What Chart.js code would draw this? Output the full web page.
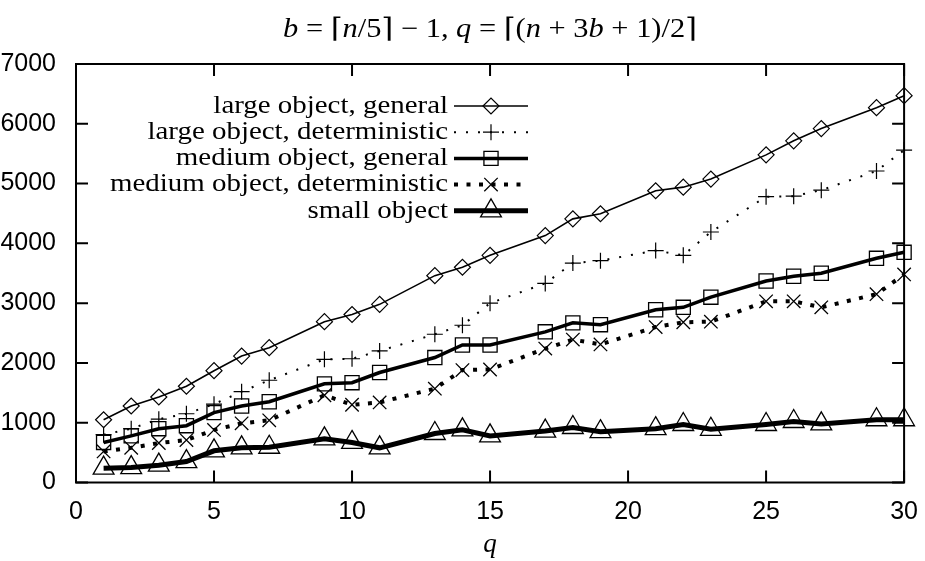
<!DOCTYPE html>
<html>
<head>
<meta charset="utf-8">
<script src="https://cdn.jsdelivr.net/npm/chart.js@4/dist/chart.umd.min.js"></script>
<style>
  html, body { margin: 0; padding: 0; background: #fff; }
  #wrap { width: 925px; height: 561px; }
</style>
</head>
<body>
<div id="wrap"><canvas id="chart" width="925" height="561"></canvas></div>
<script>
// q values that were measured (8, 12, 16, 20, 24, 28 are missing)
const qValues = [1, 2, 3, 4, 5, 6, 7, 9, 10, 11, 13, 14, 15, 17, 18, 19, 21, 22, 23, 25, 26, 27, 29, 30];

const largeGeneral = [1050, 1280, 1430, 1610, 1870, 2115, 2255, 2690, 2810, 2980, 3460, 3600, 3800, 4130, 4410, 4495, 4880, 4940, 5075, 5480, 5715, 5920, 6270, 6470];
const largeDeterministic = [800, 900, 1060, 1150, 1310, 1520, 1710, 2060, 2070, 2200, 2480, 2630, 3000, 3330, 3670, 3710, 3880, 3800, 4190, 4780, 4790, 4890, 5210, 5560];
const mediumGeneral = [670, 780, 900, 950, 1170, 1280, 1350, 1650, 1670, 1840, 2090, 2300, 2300, 2520, 2670, 2640, 2890, 2930, 3100, 3370, 3450, 3500, 3750, 3850];
const mediumDeterministic = [520, 580, 660, 710, 880, 990, 1040, 1460, 1300, 1340, 1570, 1880, 1890, 2240, 2390, 2310, 2600, 2680, 2690, 3030, 3030, 2930, 3150, 3480];
const smallObject = [240, 250, 290, 350, 530, 580, 590, 730, 670, 580, 820, 880, 780, 860, 920, 850, 900, 970, 890, 970, 1020, 980, 1050, 1050];

const seriesLabels = [
    'large object, general',
    'large object, deterministic',
    'medium object, general',
    'medium object, deterministic',
    'small object'
];

const xTicks = [0, 5, 10, 15, 20, 25, 30];
const yTicks = [0, 1000, 2000, 3000, 4000, 5000, 6000, 7000];

const titleParts = [
    ['b', true], [' = \u2308', false], ['n', true], ['/5\u2309 \u2212 1, ', false],
    ['q', true], [' = \u2308(', false], ['n', true], [' + 3', false], ['b', true], [' + 1)/2\u2309', false]
];
const xAxisTitle = 'q';

const serif = '"Liberation Serif", "DejaVu Serif", serif';
const sans = '"Liberation Sans", Arial, sans-serif';

function toPoints(values) {
    return qValues.map((q, i) => ({ x: q, y: values[i] }));
}

// style per series: line width, dash, marker
const styles = [
    { bw: 1.6, dash: [], pt: 'rectRot', r: 8, pw: 1.2 },
    { bw: 2, dash: [2, 10], pt: 'cross', r: 8, pw: 1.2 },
    { bw: 3.5, dash: [], pt: 'rect', r: 10, pw: 1.3 },
    { bw: 4, dash: [4, 8.5], pt: 'crossRot', r: 9.5, pw: 1.3 },
    { bw: 5, dash: [], pt: 'triangle', r: 12, pw: 1.3 }
];

const seriesValues = [largeGeneral, largeDeterministic, mediumGeneral, mediumDeterministic, smallObject];

const datasets = seriesValues.map((vals, i) => ({
    label: seriesLabels[i],
    data: toPoints(vals),
    borderColor: '#000',
    borderWidth: styles[i].bw,
    borderDash: styles[i].dash,
    borderCapStyle: 'butt',
    tension: 0,
    pointStyle: styles[i].pt,
    pointRadius: styles[i].r,
    pointBorderWidth: styles[i].pw,
    pointBorderColor: '#000',
    pointBackgroundColor: 'rgba(0,0,0,0)',
    clip: false
}));

// frame with inside ticks on all four sides
const framePlugin = {
    id: 'frame',
    beforeDatasetsDraw(chart) {
        const { ctx, chartArea: a, scales: { x, y } } = chart;
        ctx.save();
        ctx.strokeStyle = '#000';
        ctx.lineWidth = 2;
        ctx.beginPath();
        xTicks.forEach(v => {
            const px = x.getPixelForValue(v);
            ctx.moveTo(px, a.bottom); ctx.lineTo(px, a.bottom - 12);
            ctx.moveTo(px, a.top); ctx.lineTo(px, a.top + 12);
        });
        yTicks.forEach(v => {
            const py = y.getPixelForValue(v);
            ctx.moveTo(a.left, py); ctx.lineTo(a.left + 12, py);
            ctx.moveTo(a.right, py); ctx.lineTo(a.right - 12, py);
        });
        ctx.stroke();
        ctx.strokeRect(a.left, a.top, a.right - a.left, a.bottom - a.top);
        ctx.restore();
    }
};

// text stretched sideways a bit, Times is narrower than the original TeX font
function wideText(ctx, text, x, y, sx) {
    ctx.save();
    ctx.translate(x, y);
    ctx.scale(sx, 1);
    ctx.fillText(text, 0, 0);
    ctx.restore();
}

// gnuplot style key: right aligned text, then line sample with marker
const keyPlugin = {
    id: 'key',
    afterDatasetsDraw(chart) {
        const ctx = chart.ctx;
        ctx.save();
        ctx.font = '26px ' + serif;
        const sx = 338 / ctx.measureText(seriesLabels[3]).width;
        ctx.fillStyle = '#000';
        ctx.textAlign = 'right';
        ctx.textBaseline = 'middle';
        chart.data.datasets.forEach((ds, i) => {
            const yy = 106 + i * 26.2;
            ctx.fillStyle = '#000';
            wideText(ctx, ds.label, 448, yy, sx);
            ctx.strokeStyle = '#000';
            ctx.lineWidth = ds.borderWidth;
            ctx.setLineDash(ds.borderDash);
            ctx.lineCap = 'butt';
            ctx.beginPath();
            ctx.moveTo(454, yy);
            ctx.lineTo(528, yy);
            ctx.stroke();
            ctx.setLineDash([]);
            ctx.lineWidth = ds.pointBorderWidth;
            ctx.fillStyle = 'rgba(0,0,0,0)';
            Chart.helpers.drawPoint(ctx, {
                pointStyle: ds.pointStyle,
                radius: ds.pointRadius,
                borderWidth: ds.pointBorderWidth,
                rotation: 0
            }, 491, yy);
        });
        ctx.restore();
    }
};

// title with italic variables, and x axis title
const textPlugin = {
    id: 'texts',
    afterDraw(chart) {
        const ctx = chart.ctx;
        const a = chart.chartArea;
        const cx = (a.left + a.right) / 2;
        ctx.save();
        ctx.fillStyle = '#000';
        ctx.textBaseline = 'middle';
        ctx.textAlign = 'left';
        const fontOf = it => (it ? 'italic ' : '') + '27px ' + serif;
        let total = 0;
        titleParts.forEach(([t, it]) => { ctx.font = fontOf(it); total += ctx.measureText(t).width; });
        const sx = 414 / total;
        let xx = cx - 207;
        titleParts.forEach(([t, it]) => {
            ctx.font = fontOf(it);
            wideText(ctx, t, xx, 30, sx);
            xx += ctx.measureText(t).width * sx;
        });
        ctx.font = 'italic 27px ' + serif;
        ctx.textAlign = 'center';
        ctx.fillText(xAxisTitle, cx, 545);
        ctx.restore();
    }
};

new Chart(document.getElementById('chart').getContext('2d'), {
    type: 'line',
    data: { datasets: datasets },
    options: {
        responsive: false,
        animation: false,
        devicePixelRatio: 1,
        layout: { padding: { left: 0, top: 64, right: 16.5, bottom: 0 } },
        plugins: {
            legend: { display: false },
            title: { display: false },
            tooltip: { enabled: false }
        },
        scales: {
            x: {
                type: 'linear',
                min: 0,
                max: 30,
                grid: { display: false },
                border: { display: false },
                afterFit: s => { s.height = 78.5; },
                afterBuildTicks: s => { s.ticks = xTicks.map(v => ({ value: v })); },
                ticks: {
                    color: '#000',
                    padding: 7,
                    font: { family: sans, size: 25 },
                    maxRotation: 0,
                    callback: v => String(v)
                }
            },
            y: {
                type: 'linear',
                min: 0,
                max: 7000,
                grid: { display: false },
                border: { display: false },
                afterFit: s => { s.width = 76; },
                afterBuildTicks: s => { s.ticks = yTicks.map(v => ({ value: v })); },
                ticks: {
                    color: '#000',
                    padding: 12,
                    font: { family: sans, size: 25 },
                    callback: v => String(v)
                }
            }
        }
    },
    plugins: [framePlugin, keyPlugin, textPlugin]
});
</script>
</body>
</html>
